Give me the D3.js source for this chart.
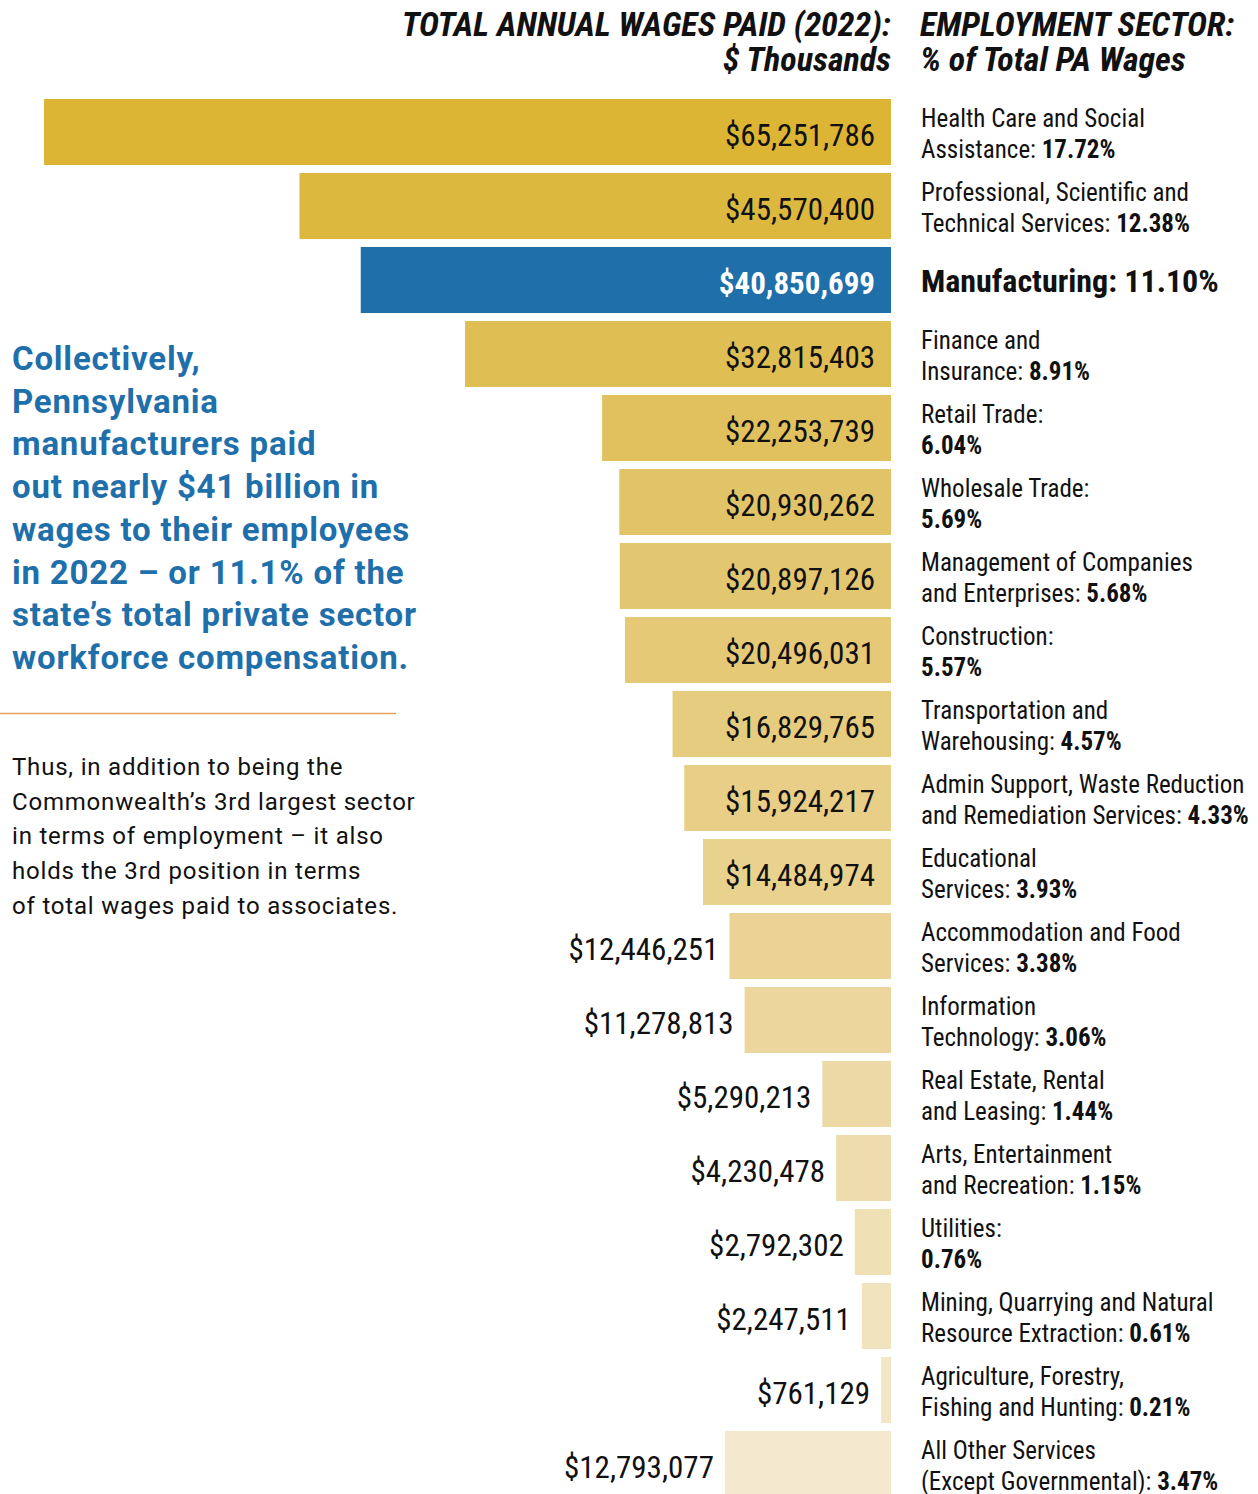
<!DOCTYPE html>
<html>
<head>
<meta charset="utf-8">
<script src="https://cdn.jsdelivr.net/npm/d3@7"></script>
<style>
  body { margin: 0; background: #fff; }
  svg { display: block; }
  .cond { font-family: "Roboto Condensed", "Liberation Sans Narrow", "Arial Narrow", "DejaVu Sans Condensed", sans-serif; }
  .rob { font-family: Roboto, "Noto Sans", sans-serif; }
</style>
</head>
<body>
<div id="chart"></div>
<script>
// Sector names (two lines each, colon included), wages in $ thousands, share of PA wages

const sectors = [
  ['Health Care and Social', 'Assistance:'],
  ['Professional, Scientific and', 'Technical Services:'],
  ['Manufacturing:'],
  ['Finance and', 'Insurance:'],
  ['Retail Trade:', ''],
  ['Wholesale Trade:', ''],
  ['Management of Companies', 'and Enterprises:'],
  ['Construction:', ''],
  ['Transportation and', 'Warehousing:'],
  ['Admin Support, Waste Reduction', 'and Remediation Services:'],
  ['Educational', 'Services:'],
  ['Accommodation and Food', 'Services:'],
  ['Information', 'Technology:'],
  ['Real Estate, Rental', 'and Leasing:'],
  ['Arts, Entertainment', 'and Recreation:'],
  ['Utilities:', ''],
  ['Mining, Quarrying and Natural', 'Resource Extraction:'],
  ['Agriculture, Forestry,', 'Fishing and Hunting:'],
  ['All Other Services', '(Except Governmental):'],
];

const wages = [
  65251786, 45570400, 40850699, 32815403, 22253739, 20930262, 20897126,
  20496031, 16829765, 15924217, 14484974, 12446251, 11278813, 5290213,
  4230478, 2792302, 2247511, 761129, 12793077,
];

const shares = [
  17.72, 12.38, 11.10, 8.91, 6.04, 5.69, 5.68, 5.57, 4.57, 4.33, 3.93,
  3.38, 3.06, 1.44, 1.15, 0.76, 0.61, 0.21, 3.47,
];

const highlight = 'Manufacturing:';

const width = 1258;
const height = 1494;
const barRight = 891;
const barTop = 99;
const rowStep = 74;
const gap = 8;

const svg = d3.select('#chart').append('svg')
  .attr('width', width)
  .attr('height', height);

// Bars grow leftwards from barRight
const xScale = d3.scaleLinear().domain([0, d3.max(wages)]).range([0, 847]);

const yScale = d3.scaleBand()
  .domain(d3.range(wages.length))
  .range([barTop, barTop + rowStep * wages.length - gap])
  .paddingInner(gap / rowStep)
  .paddingOuter(0);

const color = d3.scaleLinear()
  .domain([0, 5, 12, wages.length - 1])
  .range(['#dbb533', '#e2c468', '#ecd69d', '#f4e9cf']);

const fmtMoney = v => '$' + d3.format(',')(v);
const fmtPct = v => d3.format('.2f')(v) + '%';

// Headers
const hdr = svg.append('g').attr('class', 'cond')
  .style('font-weight', 700).style('font-style', 'italic')
  .style('font-size', '34px').attr('fill', '#111');
hdr.append('text').attr('x', barRight).attr('y', 36).attr('text-anchor', 'end')
  .text('TOTAL ANNUAL WAGES PAID (2022):');
hdr.append('text').attr('x', barRight).attr('y', 71).attr('text-anchor', 'end')
  .text('$ Thousands');
hdr.append('text').attr('x', 920).attr('y', 36).text('EMPLOYMENT SECTOR:');
hdr.append('text').attr('x', 920).attr('y', 71).text('% of Total PA Wages');

// Bars
const rows = svg.append('g').selectAll('g')
  .data(wages)
  .enter()
  .append('g');

rows.append('rect')
  .attr('x', d => barRight - xScale(d))
  .attr('y', (d, i) => yScale(i))
  .attr('width', d => xScale(d))
  .attr('height', yScale.bandwidth())
  .attr('fill', (d, i) => sectors[i][0] === highlight ? '#1f6fab' : color(i));

// Value labels: inside when the bar is wide enough, otherwise to the left
rows.append('text')
  .attr('class', 'cond')
  .style('font-size', '31px')
  .style('font-weight', (d, i) => sectors[i][0] === highlight ? 700 : 400)
  .attr('fill', (d, i) => sectors[i][0] === highlight ? '#fff' : '#111')
  .attr('text-anchor', 'end')
  .attr('x', d => xScale(d) > 175 ? barRight - 16 : barRight - xScale(d) - 11)
  .attr('y', (d, i) => yScale(i) + yScale.bandwidth() / 2 + 14)
  .text(d => fmtMoney(d));

// Sector labels on the right
rows.each(function (d, i) {
  const g = d3.select(this);
  const lines = sectors[i];
  const y0 = yScale(i);
  const t = g.append('text').attr('class', 'cond').attr('fill', '#111');
  if (lines[0] === highlight) {
    t.attr('x', 921).attr('y', y0 + 45)
      .style('font-size', '32px').style('font-weight', 700)
      .text(lines[0] + ' ' + fmtPct(shares[i]));
    return;
  }
  t.style('font-size', '25px');
  t.append('tspan').attr('x', 921).attr('y', y0 + 28).text(lines[0]);
  const l2 = t.append('tspan').attr('x', 921).attr('y', y0 + 58.5);
  if (lines[1]) l2.append('tspan').text(lines[1] + ' ');
  l2.append('tspan').style('font-weight', 700).text(fmtPct(shares[i]));
});

// Left-hand commentary
const lead = [
  'Collectively,',
  'Pennsylvania',
  'manufacturers paid',
  'out nearly $41 billion in',
  'wages to their employees',
  'in 2022 \u2013 or 11.1% of the',
  'state\u2019s total private sector',
  'workforce compensation.',
];
svg.append('text').attr('class', 'rob')
  .style('font-size', '33px').style('font-weight', 700)
  .style('letter-spacing', '0.8px')
  .attr('fill', '#1f6fab')
  .selectAll('tspan').data(lead).enter().append('tspan')
  .attr('x', 12).attr('y', (d, i) => 370 + i * 42.7)
  .text(d => d);

svg.append('line')
  .attr('x1', 0).attr('x2', 396).attr('y1', 713.5).attr('y2', 713.5)
  .attr('stroke', '#e4a35a').attr('stroke-width', 1.5);

const body = [
  'Thus, in addition to being the',
  'Commonwealth\u2019s 3rd largest sector',
  'in terms of employment \u2013 it also',
  'holds the 3rd position in terms',
  'of total wages paid to associates.',
];
svg.append('text').attr('class', 'rob')
  .style('font-size', '24px').attr('fill', '#111')
  .style('letter-spacing', '0.8px')
  .selectAll('tspan').data(body).enter().append('tspan')
  .attr('x', 12).attr('y', (d, i) => 775 + i * 34.7)
  .text(d => d);
</script>
</body>
</html>
